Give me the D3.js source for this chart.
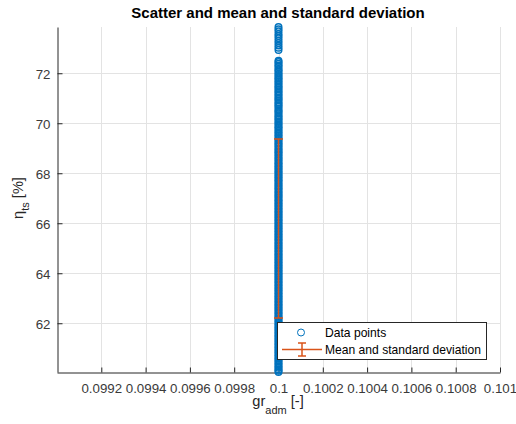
<!DOCTYPE html>
<html>
<head>
<meta charset="utf-8">
<script src="https://cdn.jsdelivr.net/npm/d3@7"></script>
<style>
  html, body { margin: 0; padding: 0; background: #ffffff; }
  svg { display: block; font-family: "Liberation Sans", Arial, Helvetica, sans-serif; }
</style>
</head>
<body>
<svg id="chart" width="516" height="424"></svg>
<script>
// ---- data ----
const xCategory = 0.1;
const etaValues = [
  73.85, 73.76, 73.68, 73.57, 73.49, 73.40, 73.30, 73.21, 73.11, 73.02, 72.93,
  72.50, 72.45, 72.38, 72.31, 72.26, 72.17, 72.12, 72.06, 71.98, 71.93, 71.85, 71.80, 71.74,
  71.67, 71.61, 71.54, 71.47, 71.42, 71.35, 71.28, 71.23, 71.15, 71.10, 71.02, 70.97, 70.91,
  70.83, 70.78, 70.71, 70.66, 70.58, 70.51, 70.46, 70.40, 70.32, 70.27, 70.20, 70.15, 70.08,
  70.01, 69.96, 69.88, 69.83, 69.77, 69.69, 69.64, 69.57, 69.51, 69.45, 69.38, 69.33, 69.25,
  69.20, 69.13, 69.08, 69.00, 68.95, 68.88, 68.83, 68.77, 68.70, 68.64, 68.57, 68.52, 68.44,
  68.39, 68.33, 68.26, 68.21, 68.14, 68.08, 68.02, 67.96, 67.89, 67.84, 67.77, 67.71, 67.66,
  67.58, 67.53, 67.46, 67.40, 67.35, 67.27, 67.22, 67.15, 67.09, 67.04, 66.96, 66.91, 66.85,
  66.78, 66.73, 66.66, 66.60, 66.54, 66.47, 66.42, 66.35, 66.29, 66.23, 66.16, 66.11, 66.04,
  65.98, 65.92, 65.85, 65.80, 65.73, 65.67, 65.61, 65.54, 65.49, 65.42, 65.36, 65.31, 65.23,
  65.18, 65.11, 65.05, 64.99, 64.92, 64.87, 64.80, 64.74, 64.68, 64.61, 64.56, 64.49, 64.43,
  64.37, 64.30, 64.25, 64.18, 64.12, 64.06, 63.99, 63.94, 63.87, 63.81, 63.75, 63.68, 63.63,
  63.56, 63.50, 63.44, 63.37, 63.32, 63.25, 63.19, 63.13, 63.06, 63.01, 62.94, 62.88, 62.82,
  62.75, 62.70, 62.63, 62.57, 62.51, 62.44, 62.39, 62.32, 62.26, 62.20, 62.13, 62.08, 62.01,
  61.95, 61.89, 61.82, 61.77, 61.70, 61.64, 61.58, 61.51, 61.46, 61.39, 61.33, 61.27, 61.20,
  61.15, 61.08, 61.02, 60.96, 60.89, 60.84, 60.77, 60.71, 60.65, 60.58, 60.53, 60.46, 60.40,
  60.34, 60.27, 60.22, 60.15, 60.10, 60.05
];
const meanValue = 65.79;
const stdValue = 3.58;
const xTicks = [0.0992, 0.0994, 0.0996, 0.0998, 0.1, 0.1002, 0.1004, 0.1006, 0.1008, 0.101];
const yTicks = [62, 64, 66, 68, 70, 72];
const xDomain = [0.099, 0.101];
const yDomain = [60.05, 73.85];
const titleText = "Scatter and mean and standard deviation";
const legendLabels = ["Data points", "Mean and standard deviation"];

// ---- layout ----
const svg = d3.select("#chart");
const pLeft = 57, pRight = 500, pTop = 27, pBottom = 372;
const axisColor = "#262626";
const gridColor = "#e3e3e3";
const blue = "#0072BD";
const orange = "#D95319";

const x = d3.scaleLinear().domain(xDomain).range([pLeft, pRight]);
const y = d3.scaleLinear().domain(yDomain).range([pBottom, pTop]);

// grid
const grid = svg.append("g");
grid.selectAll("line.vx").data(xTicks).join("line")
  .attr("x1", d => Math.round(x(d)) + 0.5).attr("x2", d => Math.round(x(d)) + 0.5)
  .attr("y1", pTop).attr("y2", pBottom)
  .attr("stroke", gridColor).attr("stroke-width", 1);
grid.selectAll("line.hy").data(yTicks).join("line")
  .attr("y1", d => Math.round(y(d)) + 0.5).attr("y2", d => Math.round(y(d)) + 0.5)
  .attr("x1", pLeft).attr("x2", pRight)
  .attr("stroke", gridColor).attr("stroke-width", 1);

// axes
const xAxis = d3.axisBottom(x).tickValues(xTicks).tickSizeInner(-5).tickSizeOuter(0)
  .tickPadding(11).tickFormat(d3.format(""));
const gx = svg.append("g").attr("transform", `translate(0,${pBottom + 0.5})`).call(xAxis);
const yAxis = d3.axisLeft(y).tickValues(yTicks).tickSizeInner(-5).tickSizeOuter(0)
  .tickPadding(7).tickFormat(d3.format("d"));
const gy = svg.append("g").attr("transform", `translate(${pLeft + 0.5},0)`).call(yAxis);
[gx, gy].forEach(g => {
  g.select(".domain").attr("stroke", axisColor).attr("stroke-width", 1);
  g.selectAll(".tick line").attr("stroke", axisColor);
  g.selectAll(".tick text").attr("fill", "#3a3a3a")
    .attr("font-size", "13.3px").attr("font-family", "Liberation Sans, Arial, sans-serif");
});
gy.selectAll(".tick text").attr("dy", "0.43em");

// scatter
svg.append("g").selectAll("circle").data(etaValues).join("circle")
  .attr("cx", x(xCategory)).attr("cy", d => y(d)).attr("r", 3.3)
  .attr("fill", "none").attr("stroke", blue).attr("stroke-width", 1.4);

// error bar
const eb = svg.append("g").attr("stroke", orange).attr("stroke-width", 1.5).attr("fill", "none");
const ex = x(xCategory);
eb.append("line").attr("x1", ex).attr("x2", ex)
  .attr("y1", y(meanValue - stdValue)).attr("y2", y(meanValue + stdValue));
[meanValue - stdValue, meanValue + stdValue].forEach(v => {
  eb.append("line").attr("x1", ex - 4.5).attr("x2", ex + 4.5).attr("y1", y(v)).attr("y2", y(v));
});

// title
svg.append("text").attr("x", 278).attr("y", 18).attr("text-anchor", "middle")
  .attr("font-size", "15px").attr("font-weight", "bold").attr("fill", "#000")
  .text(titleText);

// x label
const xl = svg.append("text").attr("x", 278).attr("y", 406).attr("text-anchor", "middle")
  .attr("font-size", "14.6px").attr("fill", axisColor);
xl.append("tspan").text("gr");
xl.append("tspan").attr("dy", 8).attr("font-size", "11px").text("adm");
xl.append("tspan").attr("dy", -8).text(" [-]");

// y label
const yl = svg.append("text").attr("transform", "translate(23,198) rotate(-90)")
  .attr("text-anchor", "middle").attr("font-size", "14.6px").attr("fill", axisColor);
yl.append("tspan").text("η");
yl.append("tspan").attr("dy", 6).attr("font-size", "11px").text("ts");
yl.append("tspan").attr("dy", -6).text(" [%]");

// legend
const lg = svg.append("g");
lg.append("rect").attr("x", 277.5).attr("y", 322.5).attr("width", 209).attr("height", 37)
  .attr("fill", "#fff").attr("stroke", axisColor).attr("stroke-width", 1);
lg.append("circle").attr("cx", 301).attr("cy", 332.5).attr("r", 3.5)
  .attr("fill", "none").attr("stroke", blue).attr("stroke-width", 1);
const ly = 349.5;
lg.append("line").attr("x1", 282).attr("x2", 322).attr("y1", ly).attr("y2", ly)
  .attr("stroke", orange).attr("stroke-width", 1.5);
lg.append("line").attr("x1", 302).attr("x2", 302).attr("y1", ly - 6.5).attr("y2", ly + 6.5)
  .attr("stroke", orange).attr("stroke-width", 1.5);
[ly - 6.5, ly + 6.5].forEach(v => lg.append("line").attr("x1", 298).attr("x2", 306)
  .attr("y1", v).attr("y2", v).attr("stroke", orange).attr("stroke-width", 1.5));
lg.selectAll("text").data(legendLabels).join("text")
  .attr("x", 325).attr("y", (d, i) => 337 + i * 17)
  .attr("font-size", "12.1px").attr("fill", "#000").text(d => d);
</script>
</body>
</html>
